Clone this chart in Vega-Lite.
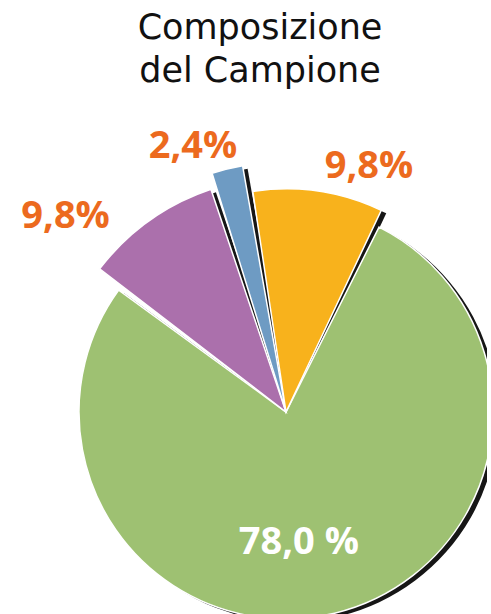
{
  "$schema": "https://vega.github.io/schema/vega-lite/v6.json",
  "width": 402,
  "height": 412,
  "autosize": {"type": "none"},
  "padding": {"left": 85, "top": 206, "right": 0, "bottom": 0},
  "background": "white",
  "title": {
    "text": ["Composizione", "del Campione"],
    "font": "DejaVu Sans",
    "fontSize": 35,
    "fontWeight": "normal",
    "color": "#111111",
    "anchor": "middle",
    "dx": -26,
    "offset": 4,
    "lineHeight": 43,
    "baseline": "bottom"
  },
  "data": {
    "values": [
      {"categoria": "A", "percentuale": 78.0, "etichetta": "78,0 %"},
      {"categoria": "B", "percentuale": 9.8, "etichetta": "9,8%"},
      {"categoria": "C", "percentuale": 2.4, "etichetta": "2,4%"},
      {"categoria": "D", "percentuale": 9.8, "etichetta": "9,8%"}
    ]
  },
  "encoding": {
    "theta": {
      "field": "percentuale",
      "type": "quantitative",
      "stack": true,
      "scale": {"range": [0.4538, 6.737]}
    },
    "order": {"field": "categoria", "type": "nominal", "sort": "ascending"}
  },
  "layer": [
    {
      "mark": {
        "type": "arc",
        "color": "#161616",
        "xOffset": 5,
        "yOffset": 3,
        "padAngle": 0.025,
        "outerRadius": {"expr": "datum.categoria === 'A' ? 207 : datum.categoria === 'B' ? 235 : datum.categoria === 'C' ? 250 : 223"}
      }
    },
    {
      "mark": {
        "type": "arc",
        "padAngle": 0.025,
        "stroke": "white",
        "strokeWidth": 1.5,
        "outerRadius": {"expr": "datum.categoria === 'A' ? 207 : datum.categoria === 'B' ? 235 : datum.categoria === 'C' ? 250 : 223"}
      },
      "encoding": {
        "color": {
          "field": "categoria",
          "type": "nominal",
          "legend": null,
          "scale": {"domain": ["A", "B", "C", "D"], "range": ["#9EC172", "#AB70AC", "#6E9BC3", "#F8B21C"]}
        }
      }
    },
    {
      "mark": {
        "type": "text",
        "font": "Open Sans",
        "fontWeight": "bold",
        "align": "center",
        "baseline": "middle",
        "fontSize": 38,
        "radius": {"expr": "datum.categoria === 'A' ? 132 : datum.categoria === 'B' ? 294 : datum.categoria === 'C' ? 281 : 259"},
        "thetaOffset": {"expr": "datum.categoria === 'A' ? 0.14 : datum.categoria === 'B' ? -0.227 : datum.categoria === 'C' ? -0.1 : 0.18"}
      },
      "encoding": {
        "text": {"field": "etichetta", "type": "nominal"},
        "color": {
          "condition": {"test": "datum.categoria === 'A'", "value": "white"},
          "value": "#EC6A1E"
        }
      }
    }
  ]
}
